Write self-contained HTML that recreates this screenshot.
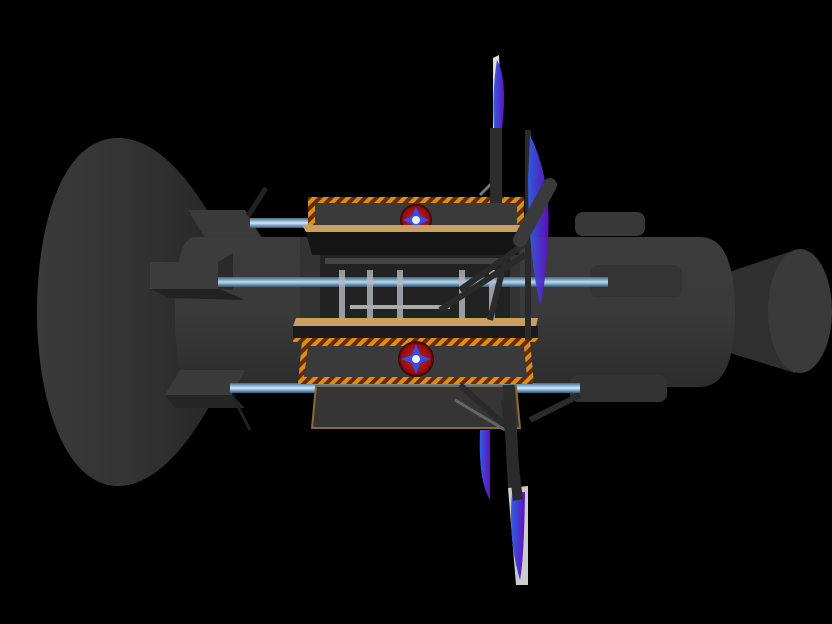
<!DOCTYPE html>
<html><head><meta charset="utf-8"><style>html,body{margin:0;padding:0;background:#000;}svg{display:block}</style></head>
<body>
<svg width="832" height="624" viewBox="0 0 832 624" xmlns="http://www.w3.org/2000/svg">
<defs>
<linearGradient id="dish" x1="0" y1="0" x2="1" y2="0"><stop offset="0" stop-color="#3a3a3a"/><stop offset="0.5" stop-color="#333"/><stop offset="1" stop-color="#262626"/></linearGradient>
<linearGradient id="cyl" x1="0" y1="0" x2="0" y2="1"><stop offset="0" stop-color="#3c3c3c"/><stop offset="0.5" stop-color="#3a3a3a"/><stop offset="1" stop-color="#2c2c2c"/></linearGradient>
<linearGradient id="beam" x1="0" y1="0" x2="0" y2="1"><stop offset="0" stop-color="#3a6a90"/><stop offset="0.5" stop-color="#cfeaff"/><stop offset="1" stop-color="#2d5a80"/></linearGradient>
<pattern id="haz" width="8" height="8" patternUnits="userSpaceOnUse" patternTransform="rotate(45)"><rect width="4" height="8" fill="#d8901a"/><rect x="4" width="4" height="8" fill="#6a2a08"/></pattern>
<radialGradient id="disc" cx="0.5" cy="0.5" r="0.5"><stop offset="0" stop-color="#d02020"/><stop offset="0.8" stop-color="#901010"/><stop offset="1" stop-color="#300"/></radialGradient>
<linearGradient id="sail" x1="0" y1="0" x2="1" y2="0"><stop offset="0" stop-color="#3060e0"/><stop offset="1" stop-color="#6010c0"/></linearGradient>
</defs>
<rect width="832" height="624" fill="#000"/>
<path d="M118 138 C60 138 37 230 37 312 C37 400 65 486 118 486 C165 486 205 420 228 370 L228 250 C205 200 165 138 118 138Z" fill="url(#dish)"/>
<path d="M720 275 L795 250 L795 373 L720 350Z" fill="#2f2f2f"/>
<ellipse cx="800" cy="311" rx="32" ry="62" fill="#3a3a3a"/>
<path d="M195 237 L700 237 Q735 237 735 312 Q735 387 700 387 L195 387 Q175 387 175 312 Q175 237 195 237Z" fill="url(#cyl)"/>
<rect x="300" y="237" width="220" height="150" fill="#333"/>
<rect x="575" y="212" width="70" height="24" rx="8" fill="#383838"/>
<rect x="590" y="265" width="92" height="32" rx="8" fill="#343434"/>
<rect x="570" y="375" width="97" height="27" rx="8" fill="#333"/>
<polygon points="188,210 245,210 262,238 205,238" fill="#3a3a3a"/>
<rect x="150" y="262" width="70" height="27" fill="#3c3c3c"/>
<polygon points="150,289 220,289 245,300 170,298" fill="#222"/>
<polygon points="218,262 233,253 233,290 218,289" fill="#2a2a2a"/>
<polygon points="180,370 245,370 232,395 165,395" fill="#3a3a3a"/>
<polygon points="165,395 232,395 245,408 175,408" fill="#262626"/>
<line x1="248" y1="216" x2="266" y2="188" stroke="#222" stroke-width="5"/>
<line x1="232" y1="395" x2="250" y2="430" stroke="#222" stroke-width="3"/>
<rect x="250" y="218" width="70" height="10" fill="url(#beam)"/>
<rect x="320" y="255" width="190" height="65" fill="#222"/>
<rect x="325" y="258" width="180" height="6" fill="#444"/>
<rect x="218" y="277" width="390" height="10" fill="url(#beam)" opacity="0.9"/>
<rect x="230" y="383" width="350" height="10" fill="url(#beam)"/>
<g fill="#b8b8c4" opacity="0.8">
<rect x="339" y="270" width="6" height="50"/><rect x="367" y="270" width="6" height="50"/><rect x="397" y="270" width="6" height="50"/><rect x="459" y="270" width="6" height="50"/><rect x="489" y="270" width="6" height="50"/>
</g>
<rect x="350" y="305" width="100" height="4" fill="#aaa"/>
<rect x="308" y="197" width="216" height="32" fill="url(#haz)"/>
<rect x="315" y="203" width="202" height="24" fill="#3a3a3a"/>
<circle cx="416" cy="220" r="16" fill="url(#disc)"/>
<polygon points="416,207 420,216 429,220 420,224 416,233 412,224 403,220 412,216" fill="#2a50ff"/>
<circle cx="416" cy="220" r="4" fill="#eee"/>
<polygon points="302,225 528,225 524,232 306,232" fill="#c8a060"/>
<polygon points="306,232 524,232 518,255 312,255" fill="#151515"/>
<polygon points="296,318 538,318 536,326 293,326" fill="#c8a060"/>
<rect x="293" y="326" width="245" height="14" fill="#1a1a1a"/>
<rect x="293" y="338" width="245" height="4" fill="url(#haz)"/>
<polygon points="302,341 530,341 534,384 298,384" fill="url(#haz)"/>
<polygon points="308,346 524,346 527,377 304,377" fill="#3a3a3a"/>
<circle cx="416" cy="359" r="18" fill="url(#disc)"/>
<polygon points="416,344 420,355 431,359 420,363 416,374 412,363 401,359 412,355" fill="#2a50ff"/>
<circle cx="416" cy="359" r="4" fill="#eee"/>
<polygon points="316,386 516,386 520,428 312,428" fill="#353535" stroke="#8a6a30" stroke-width="2"/>
<g stroke="#2a2a2a" stroke-width="6">
<line x1="440" y1="310" x2="525" y2="255"/>
<line x1="460" y1="290" x2="530" y2="240"/>
<line x1="505" y1="260" x2="490" y2="320"/>
<line x1="460" y1="385" x2="510" y2="430"/>
<line x1="530" y1="420" x2="580" y2="395"/>
</g>
<line x1="455" y1="400" x2="505" y2="430" stroke="#666" stroke-width="3"/>
<line x1="480" y1="195" x2="500" y2="175" stroke="#777" stroke-width="3"/>
<rect x="490" y="128" width="12" height="75" fill="#2c2c2c"/>
<path d="M493 58 L499 55 L502 128 L493 128Z" fill="#ddd"/>
<path d="M497 60 Q508 80 502 128 L494 128 Q492 90 497 60Z" fill="url(#sail)"/>
<rect x="525" y="130" width="6" height="210" fill="#2a2a2a"/>
<path d="M530 135 Q552 180 548 240 Q545 290 540 305 Q528 250 528 180Z" fill="url(#sail)" opacity="0.95"/>
<line x1="520" y1="240" x2="550" y2="185" stroke="#3a3a3a" stroke-width="14" stroke-linecap="round"/>
<rect x="505" y="385" width="12" height="105" fill="#2c2c2c" transform="rotate(-3 510 430)"/>
<path d="M508 488 L528 486 L528 585 L516 585Z" fill="#ccc"/>
<path d="M512 492 L525 492 Q524 560 520 580 Q508 540 512 492Z" fill="url(#sail)"/>
<path d="M480 430 L490 430 L490 500 Q478 480 480 430Z" fill="url(#sail)"/>
<line x1="518" y1="500" x2="506" y2="400" stroke="#2a2a2a" stroke-width="10"/>
</svg>
</body></html>
